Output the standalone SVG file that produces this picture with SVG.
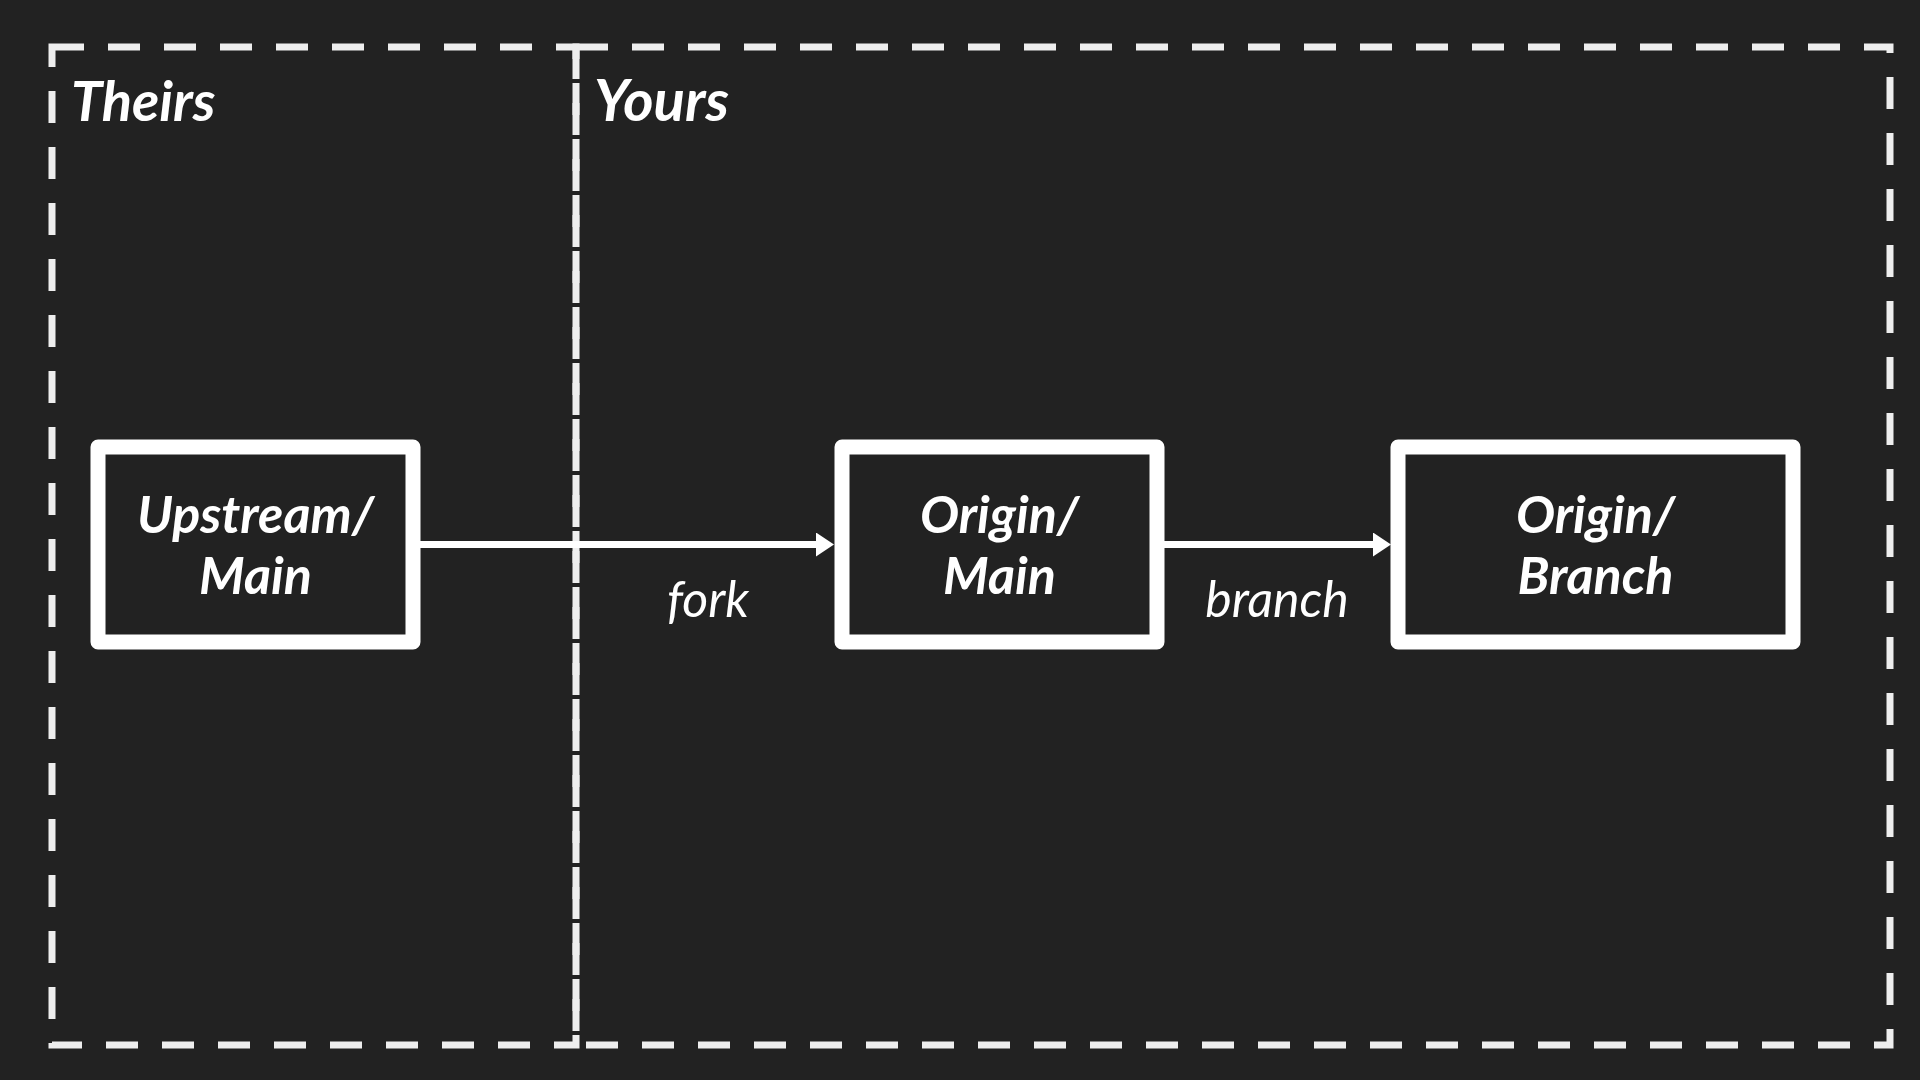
<svg xmlns="http://www.w3.org/2000/svg" width="1920" height="1080" viewBox="0 0 1920 1080">
  <style>
    .container { fill: none; stroke: #eeeeee; stroke-width: 7; stroke-dasharray: 32 24; }
    .node rect { fill: #222222; stroke: #ffffff; stroke-width: 15; stroke-linejoin: round; }
    .ntext { font-family: Lato, "Liberation Sans", sans-serif; font-weight: bold; font-style: italic; font-size: 52px; fill: #ffffff; text-anchor: middle; }
    .ctext { font-family: Lato, "Liberation Sans", sans-serif; font-weight: bold; font-style: italic; font-size: 56px; fill: #ffffff; }
    .elabel { font-family: Lato, "Liberation Sans", sans-serif; font-style: italic; font-size: 50px; fill: #ffffff; text-anchor: middle; }
    .edge { stroke: #ffffff; stroke-width: 7; fill: none; }
  </style>
  <defs>
    <marker id="arrow" markerUnits="userSpaceOnUse" markerWidth="18" markerHeight="24" refX="0" refY="12" orient="auto">
      <path d="M0,0 L18,12 L0,24 Z" fill="#ffffff"/>
    </marker>
  </defs>
  <rect width="1920" height="1080" fill="#222222"/>

  <g id="theirs">
    <path class="container" d="M52,47 H576 V1045 H52 Z"/>
    <text class="ctext" x="71" y="121">Theirs</text>
  </g>
  <g id="yours">
    <path class="container" d="M576,47 H1890 V1045 H576 Z"/>
    <text class="ctext" x="594" y="121" style="font-size:58px">Yours</text>
  </g>

  <g id="connectors">
    <line class="edge" x1="420" y1="544.5" x2="816" y2="544.5" marker-end="url(#arrow)"/>
    <line class="edge" x1="1164" y1="544.5" x2="1373" y2="544.5" marker-end="url(#arrow)"/>
    <text class="elabel" x="708" y="617">fork</text>
    <text class="elabel" x="1277" y="617">branch</text>
  </g>

  <g id="upstream-main" class="node">
    <rect x="98" y="447" width="315" height="195"/>
    <text class="ntext" x="255.5" y="533">Upstream/</text>
    <text class="ntext" x="255.5" y="594">Main</text>
  </g>
  <g id="origin-main" class="node">
    <rect x="842" y="447" width="315" height="195"/>
    <text class="ntext" x="999.5" y="533">Origin/</text>
    <text class="ntext" x="999.5" y="594">Main</text>
  </g>
  <g id="origin-branch" class="node">
    <rect x="1398" y="447" width="395" height="195"/>
    <text class="ntext" x="1595.5" y="533">Origin/</text>
    <text class="ntext" x="1595.5" y="594">Branch</text>
  </g>
</svg>
